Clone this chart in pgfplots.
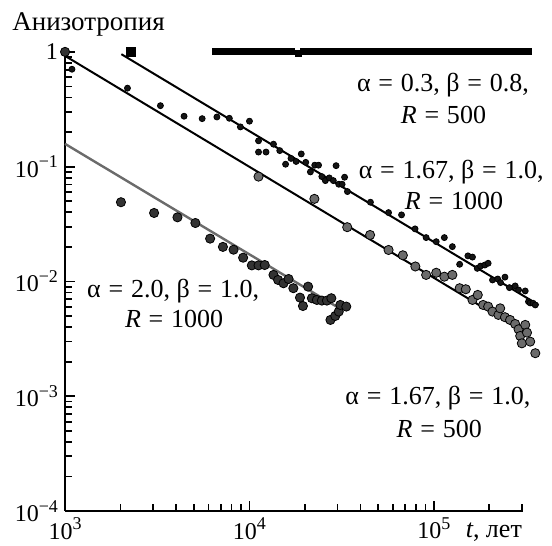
\documentclass[border=0pt]{standalone}
\usepackage{fontspec}
\setmainfont{Liberation Serif}
\usepackage{pgfplots}
\pgfplotsset{compat=1.18}
\definecolor{midgray}{HTML}{6B6B6B}
\definecolor{dkgray}{HTML}{333333}
\definecolor{dotblack}{HTML}{151515}
\newcommand{\pw}[1]{10\raisebox{0.38em}{\fontsize{9}{10}\selectfont #1}}
\newcommand{\eq}{\hspace{0.3em}=\hspace{0.3em}}

\begin{document}
\begin{tikzpicture}
\begin{axis}[
    xmode=log, ymode=log,
    scale only axis,
    width=229pt, height=229.5pt,
    xmin=1e3, xmax=3.05e5,
    ymin=1e-4, ymax=1,
    axis x line=bottom, axis y line=left,
    axis line style={-, line width=1.2pt},
    tick align=inside,
    major tick length=5pt, minor tick length=3.5pt,
    every tick/.style={black, line width=0.9pt},
    every minor tick/.style={black, line width=0.9pt},
    xtick={1e3,1e4,1e5},
    xticklabels={\pw{3},\pw{4},\pw{5}},
    extra x ticks={2e5,3e5}, extra x tick labels={},
    extra x tick style={major tick length=3.5pt},
    ytick={1e-4,1e-3,1e-2,1e-1,1},
    yticklabels={\pw{−4},\pw{−3},\pw{−2},\pw{−1},1},
    tick label style={font=\fontsize{12}{14}\selectfont},
    clip=false,
]
% fitted lines
\addplot[black, line width=1pt] coordinates {(2.02e3,0.955) (3.70e5,6.24e-3)};
\addplot[black, line width=1pt] coordinates {(1e3,0.923) (3.27e5,3.42e-3)};
\addplot[midgray, line width=1.2pt] coordinates {(1e3,0.158) (3.18e4,5.65e-3)};

% alpha=0.3, beta=0.8, R=500
\addplot[only marks, mark=square*, mark size=2.25pt, mark options={fill=black, draw=none}]
  coordinates {(2.27e3,1)};
\addplot[only marks, mark=square*, mark size=1.5pt, mark options={fill=black, draw=none}]
  coordinates {
  (6.5e3,1) (7.0e3,1) (7.5e3,1) (8.1e3,1) (8.7e3,1) (9.4e3,1) (1.01e4,1) (1.09e4,1)
  (1.17e4,1) (1.26e4,1) (1.36e4,1) (1.46e4,1) (1.57e4,1) (1.69e4,1) (1.85e4,0.965)
  (1.96e4,1) (2.11e4,1) (2.27e4,1) (2.45e4,1) (2.64e4,1) (2.84e4,1) (3.06e4,1)
  (3.3e4,1) (3.55e4,1) (3.82e4,1) (4.1e4,1) (4.4e4,1) (4.75e4,1) (5.1e4,1) (5.5e4,1)
  (5.9e4,1) (6.4e4,1) (6.9e4,1) (7.4e4,1) (8.0e4,1) (8.6e4,1) (9.3e4,1) (1.0e5,1)
  (1.08e5,1) (1.16e5,1) (1.25e5,1) (1.35e5,1) (1.45e5,1) (1.56e5,1) (1.68e5,1)
  (1.81e5,1) (1.95e5,1) (2.1e5,1) (2.26e5,1) (2.44e5,1) (2.62e5,1) (2.83e5,1)
  (3.05e5,1) (3.25e5,1)
  };

% alpha=1.67, beta=1.0, R=1000
\addplot[only marks, mark=*, mark size=1.5pt, mark options={fill=dotblack, draw=none}]
  coordinates {
  (1.09e3,0.706) (2.18e3,0.483) (3.29e3,0.340) (4.42e3,0.275) (5.54e3,0.262)
  (6.66e3,0.271) (7.78e3,0.264) (8.93e3,0.222) (1.0e4,0.249) (1.12e4,0.168)
  (1.12e4,0.134) (1.23e4,0.134) (1.35e4,0.157) (1.46e4,0.138) (1.57e4,0.105)
  (1.68e4,0.118) (1.79e4,0.111) (1.91e4,0.129) (2.02e4,0.109) (2.14e4,0.0900)
  (2.26e4,0.103) (2.37e4,0.103) (2.47e4,0.0819) (2.58e4,0.0756) (2.71e4,0.0798)
  (2.85e4,0.0756) (2.95e4,0.102) (3.05e4,0.0703) (3.18e4,0.0703) (3.28e4,0.0809)
  (3.40e4,0.0607) (4.53e4,0.0490) (5.68e4,0.0398) (6.68e4,0.0380) (7.91e4,0.0287)
  (9.08e4,0.0241) (1.03e5,0.0222) (1.14e5,0.0241) (1.26e5,0.0201) (1.38e5,0.0141)
  (1.53e5,0.0167) (1.62e5,0.0163) (1.72e5,0.0130) (1.79e5,0.0136) (1.89e5,0.0139)
  (1.97e5,0.0144) (2.08e5,0.0103) (2.22e5,0.0105) (2.30e5,0.00977) (2.43e5,0.0109)
  (2.57e5,0.00883) (2.76e5,0.00914) (2.88e5,0.00843) (3.13e5,0.00826) (3.26e5,0.00667)
  (3.33e5,0.0065) (3.45e5,0.00646) (3.55e5,0.00624)
  };

% alpha=1.67, beta=1.0, R=500
\addplot[only marks, mark=*, mark size=2.3pt, mark options={fill=midgray, draw=none}]
  coordinates {
  (1.12e4,0.0819) (2.25e4,0.0524) (3.39e4,0.0297) (4.51e4,0.0254) (5.68e4,0.0188)
  (6.79e4,0.0169) (7.94e4,0.0135) (9.08e4,0.0114) (1.03e5,0.0119) (1.14e5,0.0110)
  (1.26e5,0.0114) (1.38e5,0.00873) (1.49e5,0.00855) (1.62e5,0.00690) (1.73e5,0.00763)
  (1.85e5,0.00624) (1.97e5,0.00604) (2.08e5,0.00546) (2.24e5,0.00511) (2.29e5,0.00583)
  (2.43e5,0.00488) (2.59e5,0.00462) (2.76e5,0.00426) (2.88e5,0.00383) (2.94e5,0.00335)
  (3.00e5,0.00289) (3.13e5,0.00418) (3.20e5,0.00358) (3.33e5,0.00299) (3.55e5,0.00237)
  };

% alpha=2.0, beta=1.0, R=1000
\addplot[only marks, mark=*, mark size=2.3pt, mark options={fill=dkgray, draw=none}]
  coordinates {
  (1e3,1)
  (2.01e3,0.0490) (3.04e3,0.0395) (4.07e3,0.0362) (5.09e3,0.0323) (6.12e3,0.0236)
  (7.18e3,0.0200) (8.20e3,0.0189) (9.24e3,0.0161) (1.03e4,0.0138) (1.12e4,0.0138)
  (1.21e4,0.0139) (1.35e4,0.0114) (1.43e4,0.0103) (1.53e4,0.00964) (1.63e4,0.0105)
  (1.73e4,0.00873) (1.88e4,0.00723) (1.95e4,0.00611) (2.08e4,0.00901) (2.18e4,0.00714)
  (2.32e4,0.00690) (2.47e4,0.00681) (2.63e4,0.00681) (2.75e4,0.00462) (2.78e4,0.00714)
  (2.92e4,0.00500) (3.05e4,0.00546) (3.11e4,0.00624) (3.35e4,0.00604)
  };

% labels
\begin{scope}[every node/.style={font=\fontsize{13}{15}\selectfont, inner sep=0pt}]
\node[anchor=base west, font=\fontsize{13.5}{15}\selectfont] at (rel axis cs:-0.116,1.046) {Анизотропия};
\node[anchor=base] at (rel axis cs:0.936,-0.057) {\textit{t}, лет};
\node[anchor=base] at (rel axis cs:0.825,0.913) {α\eq 0.3, β\eq 0.8,};
\node[anchor=base] at (rel axis cs:0.826,0.845) {\textit{R}\eq 500};
\node[anchor=base] at (rel axis cs:0.843,0.725) {α\eq 1.67, β\eq 1.0,};
\node[anchor=base] at (rel axis cs:0.849,0.656) {\textit{R}\eq 1000};
\node[anchor=base] at (rel axis cs:0.236,0.466) {α\eq 2.0, β\eq 1.0,};
\node[anchor=base] at (rel axis cs:0.238,0.399) {\textit{R}\eq 1000};
\node[anchor=base] at (rel axis cs:0.814,0.231) {α\eq 1.67, β\eq 1.0,};
\node[anchor=base] at (rel axis cs:0.817,0.161) {\textit{R}\eq 500};
\end{scope}
\path (rel axis cs:-0.142,-0.063) rectangle (rel axis cs:1.063,1.113);
\end{axis}
\end{tikzpicture}
\end{document}
